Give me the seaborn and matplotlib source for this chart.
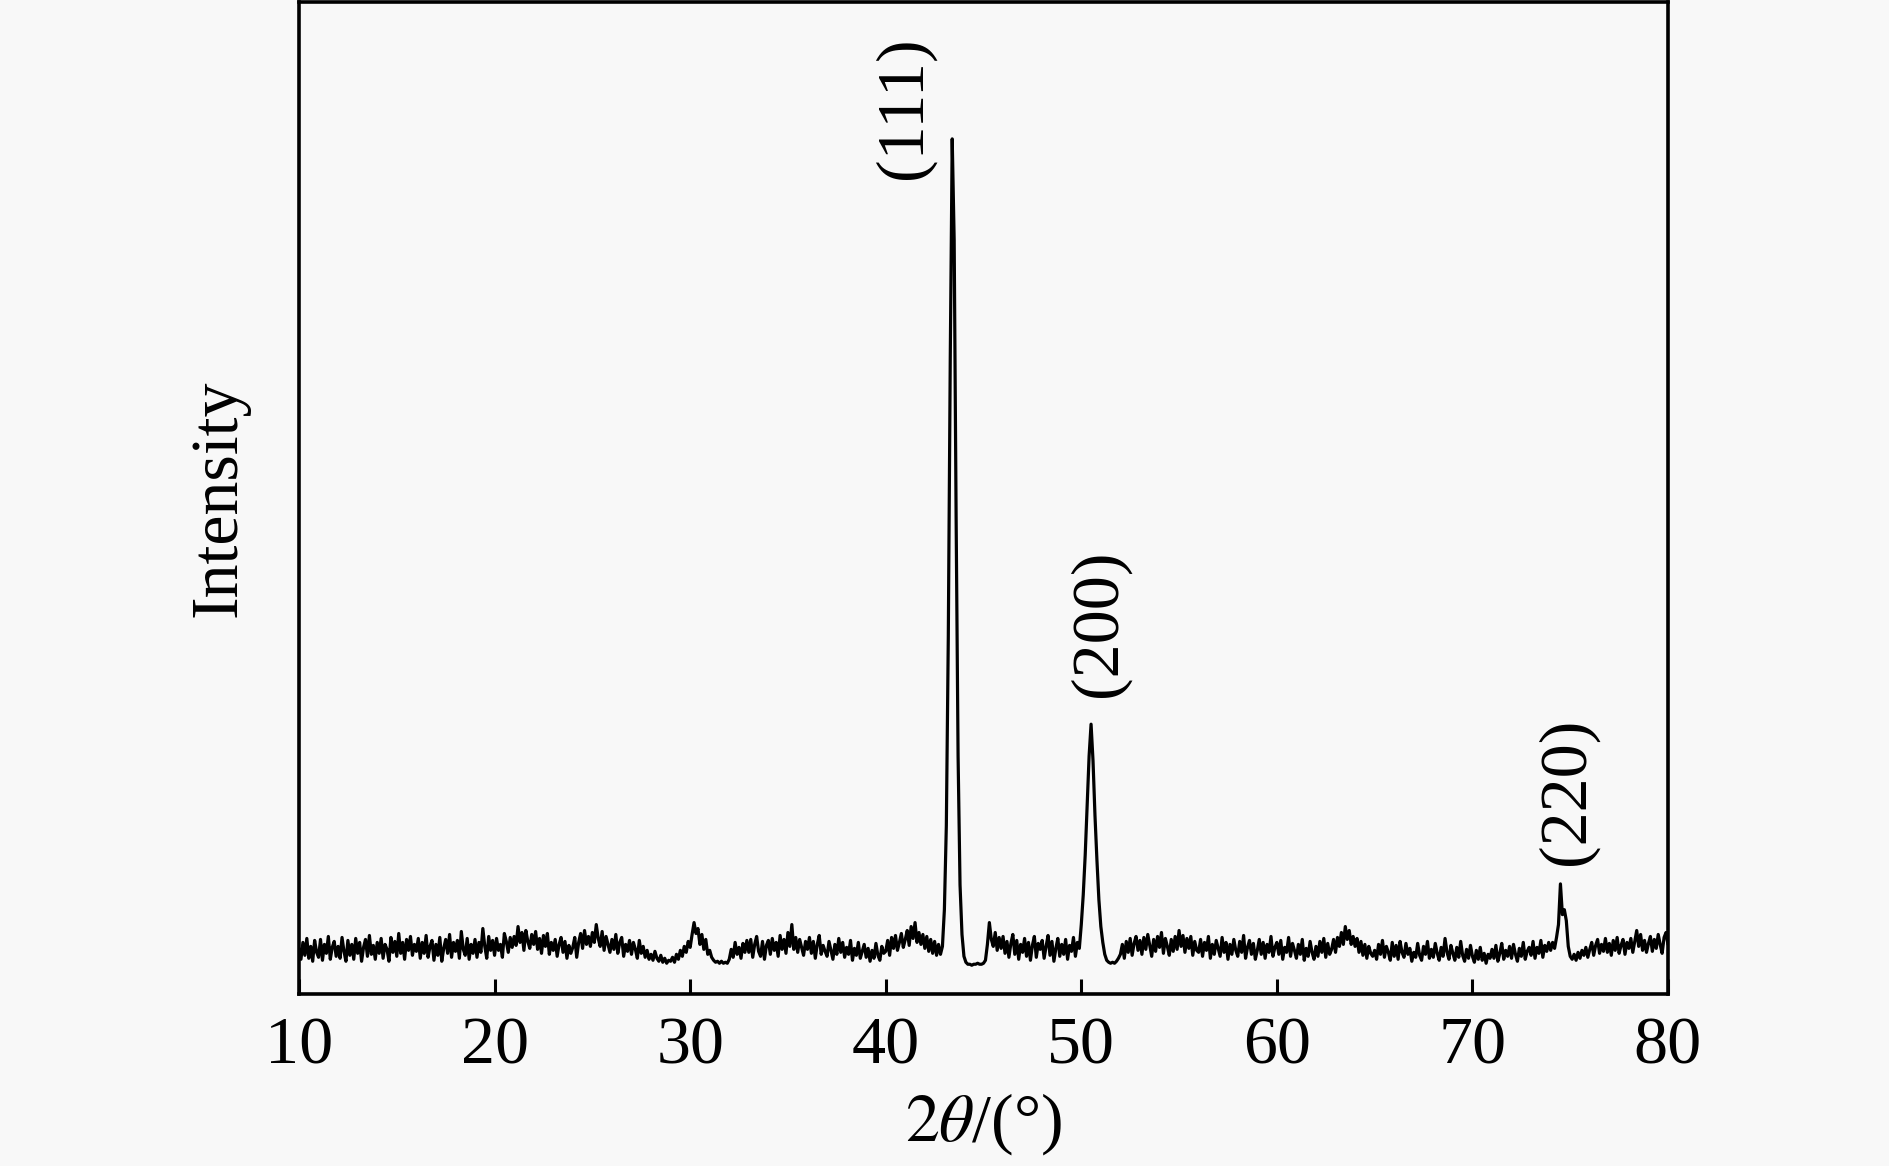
import numpy as np
import pandas as pd
import matplotlib
matplotlib.use("Agg")
import matplotlib.pyplot as plt
import seaborn as sns

# XRD pattern, 2theta from 10 to 80 deg in 0.1 deg steps
two_theta = np.round(np.arange(100, 801) / 10.0, 1)

intensity = [
    46, 35, 52, 39, 56, 36, 48, 33, 54, 42,   # 10
    37, 55, 34, 50, 41, 58, 35, 47, 53, 38,   # 11
    48, 36, 57, 43, 33, 54, 39, 50, 35, 56,   # 12
    41, 52, 33, 47, 55, 38, 59, 40, 49, 35,   # 13
    52, 41, 56, 36, 50, 45, 33, 57, 42, 53,   # 14
    38, 61, 41, 52, 35, 55, 44, 58, 39, 50,   # 15
    43, 56, 36, 52, 41, 59, 37, 48, 54, 34,   # 16
    50, 39, 57, 33, 46, 55, 41, 60, 37, 52,   # 17
    43, 54, 36, 63, 45, 39, 56, 35, 50, 41,   # 18
    55, 37, 52, 42, 66, 48, 36, 58, 44, 54,   # 19
    39, 56, 44, 50, 37, 61, 53, 42, 57, 47,   # 20
    58, 49, 68, 52, 62, 44, 64, 53, 46, 60,   # 21
    50, 63, 45, 56, 41, 59, 48, 61, 40, 52,   # 22
    44, 55, 38, 50, 57, 42, 53, 36, 49, 41,   # 23
    47, 57, 37, 52, 61, 46, 64, 50, 58, 48,   # 24
    62, 52, 70, 56, 48, 63, 44, 58, 50, 42,   # 25
    55, 45, 60, 41, 52, 57, 38, 50, 43, 54,   # 26
    40, 52, 45, 36, 54, 41, 48, 37, 44, 35,   # 27
    40, 34, 43, 36, 33, 39, 32, 36, 31, 34,   # 28
    33, 37, 32, 40, 35, 44, 38, 48, 42, 53,   # 29
    47, 60, 72, 61, 66, 50, 60, 45, 55, 40,   # 30
    44, 37, 34, 32, 33, 31, 33, 31, 32, 31,   # 31
    35, 45, 37, 52, 40, 47, 36, 51, 42, 54,   # 32
    42, 55, 37, 50, 58, 43, 38, 53, 35, 49,   # 33
    54, 40, 56, 44, 52, 38, 59, 45, 55, 41,   # 34
    62, 48, 70, 45, 57, 42, 55, 47, 39, 53,   # 35
    45, 57, 41, 53, 36, 50, 59, 40, 49, 43,   # 36
    38, 53, 44, 35, 50, 40, 56, 42, 52, 37,   # 37
    47, 40, 54, 34, 46, 39, 52, 36, 43, 50,   # 38
    37, 46, 33, 44, 36, 51, 39, 34, 48, 41,   # 39
    43, 54, 39, 57, 46, 59, 44, 52, 61, 47,   # 40
    55, 64, 49, 68, 56, 72, 52, 62, 50, 60,   # 41
    46, 58, 43, 55, 41, 53, 39, 50, 40, 48,   # 42
    85, 170, 360, 640, 862, 760, 480, 240, 110, 60,   # 43  (111)
    38, 32, 30, 30, 29, 30, 30, 31, 30, 30,   # 44
    31, 34, 50, 72, 55, 48, 62, 44, 57, 46,   # 45
    58, 41, 53, 37, 51, 60, 40, 54, 35, 50,   # 46
    42, 56, 38, 52, 34, 49, 58, 37, 51, 45,   # 47
    54, 36, 48, 59, 39, 53, 33, 46, 56, 38,   # 48
    50, 40, 55, 35, 49, 43, 57, 38, 52, 46,   # 49
    70, 100, 140, 190, 240, 272, 235, 180, 135, 95,   # 50  (200)
    68, 52, 40, 34, 32, 31, 32, 31, 33, 36,   # 51
    40, 50, 36, 53, 42, 56, 39, 51, 58, 44,   # 52
    54, 40, 57, 45, 60, 49, 38, 55, 43, 58,   # 53
    47, 62, 41, 56, 48, 39, 55, 43, 58, 45,   # 54
    64, 48, 59, 42, 56, 46, 58, 39, 53, 44,   # 55
    42, 55, 38, 52, 44, 58, 36, 50, 40, 54,   # 56
    46, 38, 57, 42, 52, 35, 50, 40, 55, 44,   # 57
    38, 53, 42, 59, 36, 47, 54, 40, 51, 35,   # 58
    44, 55, 40, 52, 36, 50, 42, 58, 38, 47,   # 59
    52, 40, 54, 35, 47, 42, 57, 38, 51, 44,   # 60
    36, 50, 40, 55, 34, 46, 38, 53, 42, 35,   # 61
    48, 38, 53, 42, 56, 37, 51, 40, 45, 55,   # 62
    42, 57, 48, 62, 50, 68, 55, 64, 50, 58,   # 63
    48, 56, 42, 53, 39, 50, 36, 48, 41, 38,   # 64
    44, 35, 50, 40, 54, 37, 48, 42, 34, 52,   # 65
    38, 49, 35, 53, 42, 37, 51, 40, 46, 33,   # 66
    42, 37, 51, 39, 34, 48, 40, 53, 36, 45,   # 67
    37, 51, 41, 34, 47, 38, 56, 42, 35, 49,   # 68
    41, 34, 47, 37, 53, 39, 33, 45, 36, 49,   # 69
    38, 32, 44, 35, 47, 34, 41, 31, 40, 36,   # 70
    45, 36, 49, 33, 41, 51, 35, 44, 38, 48,   # 71
    36, 50, 40, 33, 46, 38, 52, 35, 43, 47,   # 72
    39, 53, 36, 47, 41, 54, 37, 49, 43, 52,   # 73
    44, 52, 46, 57, 70, 111, 80, 85, 74, 48,  # 74  (220)
    38, 35, 40, 34, 42, 36, 44, 39, 47, 37,   # 75
    45, 52, 39, 49, 55, 41, 50, 43, 56, 42,   # 76
    51, 39, 54, 44, 57, 41, 49, 55, 40, 52,   # 77
    46, 56, 42, 53, 64, 48, 60, 44, 54, 42,   # 78
    51, 58, 43, 55, 46, 60, 50, 41, 57, 62,   # 79
    50,                                       # 80
]

peak_labels = ["(111)", "(200)", "(220)"]
label_x = [40.94, 50.9, 74.84]
label_y = [893, 374, 204]

xticks = [10, 20, 30, 40, 50, 60, 70, 80]

data = pd.DataFrame({"two_theta": two_theta, "intensity": intensity})

sns.set_style("ticks")
plt.rcParams["font.family"] = ["Liberation Serif", "DejaVu Serif"]
plt.rcParams["mathtext.fontset"] = "stix"
plt.rcParams["text.color"] = "black"
plt.rcParams["axes.labelcolor"] = "black"
plt.rcParams["xtick.color"] = "black"

bg = "#f8f8f8"
fig = plt.figure(figsize=(18.9, 11.66), dpi=100, facecolor=bg)
ax = fig.add_axes([299 / 1890, 1 - 994 / 1166, 1369 / 1890, 992 / 1166])
ax.set_facecolor(bg)

sns.lineplot(data=data, x="two_theta", y="intensity", ax=ax, color="black",
             linewidth=2.3, estimator=None, sort=False)

for lab, lx, ly in zip(peak_labels, label_x, label_y):
    ax.text(lx, ly, lab, rotation=90, ha="center", va="center", fontsize=49,
            color="black")

ax.set_xlim(10, 80)
ax.set_ylim(0, 1000)
ax.set_xticks(xticks)
ax.set_xticklabels([str(t) for t in xticks])
ax.set_yticks([])
ax.tick_params(axis="x", direction="in", length=11, width=2.2, labelsize=49,
               pad=16, colors="black")

for sp in ax.spines.values():
    sp.set_visible(True)
    sp.set_linewidth(2.6)
    sp.set_color("black")

ax.set_xlabel(r"$2\theta$/(°)", fontsize=49)
ax.set_ylabel("Intensity", fontsize=49)
ax.xaxis.set_label_coords(0.5, -0.098)
ax.yaxis.set_label_coords(-0.036, 0.5)

fig.savefig("out.png", dpi=100, facecolor=bg)
